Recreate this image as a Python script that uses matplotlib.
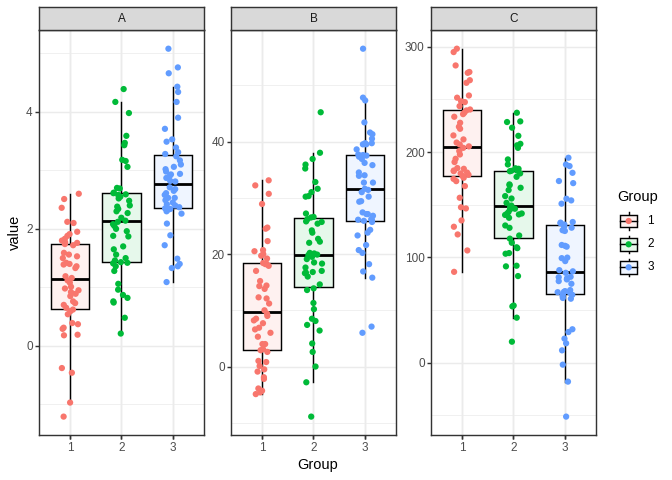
import numpy as np
import matplotlib
matplotlib.use("Agg")
import matplotlib.pyplot as plt
from matplotlib.patches import Rectangle
from matplotlib.lines import Line2D

plt.rcParams['font.family'] = ['Liberation Sans', 'DejaVu Sans']

# ---------------- data ----------------
panels = ["A", "B", "C"]
groups = ["1", "2", "3"]

A1 = [-1.21, -0.97, -0.46, -0.38, 0.18, 0.19, 0.29, 0.31, 0.37, 0.39, 0.54, 0.59, 0.62,
      0.65, 0.70, 0.73, 0.76, 0.85, 0.89, 0.92, 0.95, 0.98, 1.01, 1.08, 1.12,
      1.16, 1.19, 1.33, 1.36, 1.39, 1.40, 1.42, 1.50, 1.53, 1.56, 1.59, 1.72,
      1.74, 1.76, 1.77, 1.80, 1.83, 1.88, 1.91, 1.95, 2.10, 2.12, 2.36, 2.51, 2.60]
A2 = [0.21, 0.48, 0.74, 0.76, 0.82, 0.87, 0.96, 1.06, 1.28, 1.36, 1.41, 1.42, 1.43, 1.46,
      1.50, 1.56, 1.65, 1.70, 1.87, 1.88, 1.96, 2.00, 2.05, 2.08, 2.12,
      2.14, 2.19, 2.27, 2.30, 2.34, 2.38, 2.40, 2.48, 2.52, 2.55, 2.58, 2.59,
      2.61, 2.62, 2.69, 2.70, 3.06, 3.16, 3.18, 3.43, 3.47, 3.59, 3.98, 4.17, 4.39]
A3 = [1.09, 1.33, 1.36, 1.40, 1.49, 1.72, 1.89, 2.09, 2.26, 2.30, 2.33, 2.34, 2.35, 2.37,
      2.40, 2.42, 2.45, 2.49, 2.53, 2.53, 2.58, 2.61, 2.65, 2.68, 2.71, 2.81,
      2.82, 2.87, 2.90, 2.93, 2.94, 2.98, 3.02, 3.06, 3.10, 3.17, 3.24,
      3.28, 3.31, 3.39, 3.49, 3.53, 3.71, 3.90, 4.17, 4.34, 4.43, 4.66, 4.76, 5.08]

B1 = [-4.9, -4.6, -4.3, -3.9, -2.2, -1.9, -0.9, -0.5, 0.1, 0.8, 1.0, 2.6, 2.9, 3.1,
      4.0, 4.0, 5.3, 6.0, 6.6, 6.9, 7.7, 8.2, 8.5, 9.0, 9.4, 10.0,
      11.2, 12.1, 12.3, 13.8, 14.3, 14.4, 15.2, 17.0, 17.9, 18.2, 18.3,
      18.4, 19.2, 19.7, 20.0, 20.5, 20.7, 22.3, 24.5, 24.7, 28.9, 30.7, 32.2, 33.1]
B2 = [-8.9, -2.8, 0.0, 2.6, 4.1, 6.4, 7.4, 8.1, 8.5, 10.2, 11.3, 13.6, 13.9, 14.6,
      16.0, 16.6, 16.7, 16.8, 17.0, 17.6, 18.3, 18.5, 19.1, 19.5, 19.8, 19.9,
      20.1, 20.2, 22.0, 22.2, 22.7, 23.8, 24.2, 25.4, 25.7, 25.8, 26.2,
      26.5, 26.6, 27.2, 30.2, 30.3, 31.0, 31.6, 32.8, 35.2, 35.9, 36.9, 38.0, 45.2]
B3 = [6.0, 7.1, 15.8, 16.9, 18.2, 20.2, 20.7, 21.6, 23.3, 23.8, 24.3, 25.7, 25.9, 26.1,
      26.1, 26.2, 26.8, 27.1, 27.1, 27.4, 29.3, 29.4, 30.2, 31.0, 31.4, 31.6,
      32.7, 32.7, 33.9, 34.0, 34.5, 35.8, 36.2, 36.9, 37.3, 37.5, 37.6,
      37.7, 38.6, 39.5, 39.5, 39.7, 39.7, 40.5, 41.3, 41.6, 43.4, 47.3, 47.8, 56.5]

C1 = [86.3, 106.6, 121.8, 129.1, 135.1, 146.5, 147.6, 156.6, 167.7, 172.4, 174.5, 175.6, 177.2, 178.4,
      179.7, 180.5, 181.9, 182.5, 184.1, 184.8, 190.5, 193.6, 197.7, 200.9, 204.0, 205.4,
      207.2, 209.0, 212.0, 215.8, 222.1, 224.0, 227.8, 233.5, 236.0, 237.3, 239.5,
      240.4, 243.6, 247.4, 248.2, 251.6, 253.7, 265.7, 268.2, 275.2, 276.0, 282.2, 294.9, 298.1]
C2 = [20.0, 42.8, 53.5, 54.3, 82.3, 91.5, 92.1, 103.5, 104.1, 108.8, 109.6, 113.9, 117.8, 120.8,
      128.1, 130.3, 137.6, 140.3, 140.8, 141.3, 141.7, 143.0, 145.5, 146.2, 147.6, 149.2,
      151.8, 155.9, 158.2, 163.9, 166.1, 168.5, 169.3, 176.5, 179.7, 181.8, 182.2,
      182.4, 184.1, 184.6, 188.2, 193.0, 204.0, 206.4, 207.8, 215.4, 223.1, 228.5, 229.1, 237.3]
C3 = [-51.1, -17.9, -1.8, 11.8, 18.5, 22.9, 29.2, 31.8, 60.8, 61.5, 63.3, 64.5, 65.2, 66.4,
      67.0, 67.3, 68.0, 69.0, 75.0, 77.5, 79.1, 80.2, 81.2, 81.6, 85.4, 86.8,
      87.9, 96.5, 99.3, 99.8, 110.2, 111.0, 111.8, 125.1, 125.8, 128.2, 129.2,
      131.2, 132.4, 133.0, 133.6, 151.0, 154.1, 155.7, 170.5, 172.5, 180.3, 186.7, 188.2, 194.6]

panel_data = {"A": [A1, A2, A3], "B": [B1, B2, B3], "C": [C1, C2, C3]}
major_ticks = {"A": [0, 2, 4], "B": [0, 20, 40], "C": [0, 100, 200, 300]}
minor_ticks = {"A": [-1, 1, 3, 5], "B": [-10, 10, 30, 50], "C": [-50, 50, 150, 250]}

# ---------------- style ----------------
colors = ["#F8766D", "#00BA38", "#619CFF"]
fills = ["#FEF1F0", "#E6F8EB", "#EFF5FF"]
W, H = 672, 480
fig = plt.figure(figsize=(7, 5), dpi=96)

panel_left_px = [39.3, 231.3, 431.3]
panel_w_px = 164.3
panel_top_px, panel_bot_px = 30.3, 435.0
strip_top_px = 7.3

lw = 1.07
rng = np.random.default_rng(11)

for pi, p in enumerate(panels):
    l = panel_left_px[pi] / W
    b = 1 - panel_bot_px / H
    h = (panel_bot_px - panel_top_px) / H
    ax = fig.add_axes([l, b, panel_w_px / W, h])
    data = panel_data[p]
    allv = np.concatenate([np.asarray(d) for d in data])
    lo, hi = allv.min(), allv.max()
    pad = 0.05 * (hi - lo)
    ax.set_ylim(lo - pad, hi + pad)
    ax.set_xlim(0.4, 3.6)

    ax.set_yticks(major_ticks[p])
    ax.set_yticks(minor_ticks[p], minor=True)
    ax.set_xticks([1, 2, 3])
    ax.set_xticklabels(groups)
    ax.grid(which='major', color='#EBEBEB', lw=lw, zorder=0)
    ax.grid(which='minor', axis='y', color='#EBEBEB', lw=lw / 2, zorder=0)
    ax.set_axisbelow(True)
    ax.tick_params(which='major', length=2.75, width=lw, color='#333333',
                   labelcolor='#4D4D4D', labelsize=8.8, pad=2.2)
    ax.tick_params(which='minor', length=0)
    for s in ax.spines.values():
        s.set_color('#333333')
        s.set_linewidth(lw)
        s.set_zorder(5)

    bp = ax.boxplot(data, positions=[1, 2, 3], widths=0.75, whis=1.5,
                    showfliers=False, showcaps=False, patch_artist=True,
                    zorder=2)
    for gi, box in enumerate(bp['boxes']):
        box.set_facecolor(fills[gi])
        box.set_edgecolor('black')
        box.set_linewidth(lw)
    for wk in bp['whiskers']:
        wk.set_color('black')
        wk.set_linewidth(lw)
    for md in bp['medians']:
        md.set_color('black')
        md.set_linewidth(2.1)

    for gi, d in enumerate(data):
        xj = (gi + 1) + rng.uniform(-0.17, 0.17, len(d))
        ax.scatter(xj, d, s=22, color=colors[gi], edgecolors='none', zorder=3)

    # strip
    sax = fig.add_axes([l, 1 - panel_top_px / H, panel_w_px / W,
                        (panel_top_px - strip_top_px) / H])
    sax.set_facecolor('#D9D9D9')
    sax.set_xticks([])
    sax.set_yticks([])
    for s in sax.spines.values():
        s.set_color('#333333')
        s.set_linewidth(lw)
    sax.text(0.5, 0.5, p, ha='center', va='center', fontsize=8.8,
             color='#1A1A1A', transform=sax.transAxes)

# axis titles
fig.text(15 / W, 1 - 232.7 / H, 'value', rotation=90, ha='center', va='center',
         fontsize=11, color='black')
fig.text(317.3 / W, 1 - 465 / H, 'Group', ha='center', va='center',
         fontsize=11, color='black')

# legend (pixel coordinates overlay)
lax = fig.add_axes([0, 0, 1, 1], facecolor='none')
lax.set_xlim(0, W)
lax.set_ylim(H, 0)
lax.axis('off')
lax.text(617.5, 196.7, 'Group', ha='left', va='center', fontsize=11, color='black')
key_y = [221.0, 244.3, 267.3]
kx0, kx1 = 620.0, 637.3
kxc = (kx0 + kx1) / 2
for gi, g in enumerate(groups):
    yc = key_y[gi]
    lax.add_line(Line2D([kxc, kxc], [yc - 8.7, yc + 8.7], color='black', lw=lw))
    lax.add_patch(Rectangle((kx0, yc - 6.3), kx1 - kx0, 12.6, facecolor=fills[gi],
                            edgecolor='black', lw=lw, zorder=2))
    lax.add_line(Line2D([kx0, kx1], [yc, yc], color='black', lw=lw, zorder=3))
    lax.scatter([kxc], [yc], s=22, color=colors[gi], edgecolors='none', zorder=4)
    lax.text(647.5, yc, g, ha='left', va='center', fontsize=8.8, color='black')

fig.savefig('out.png', dpi=96)
